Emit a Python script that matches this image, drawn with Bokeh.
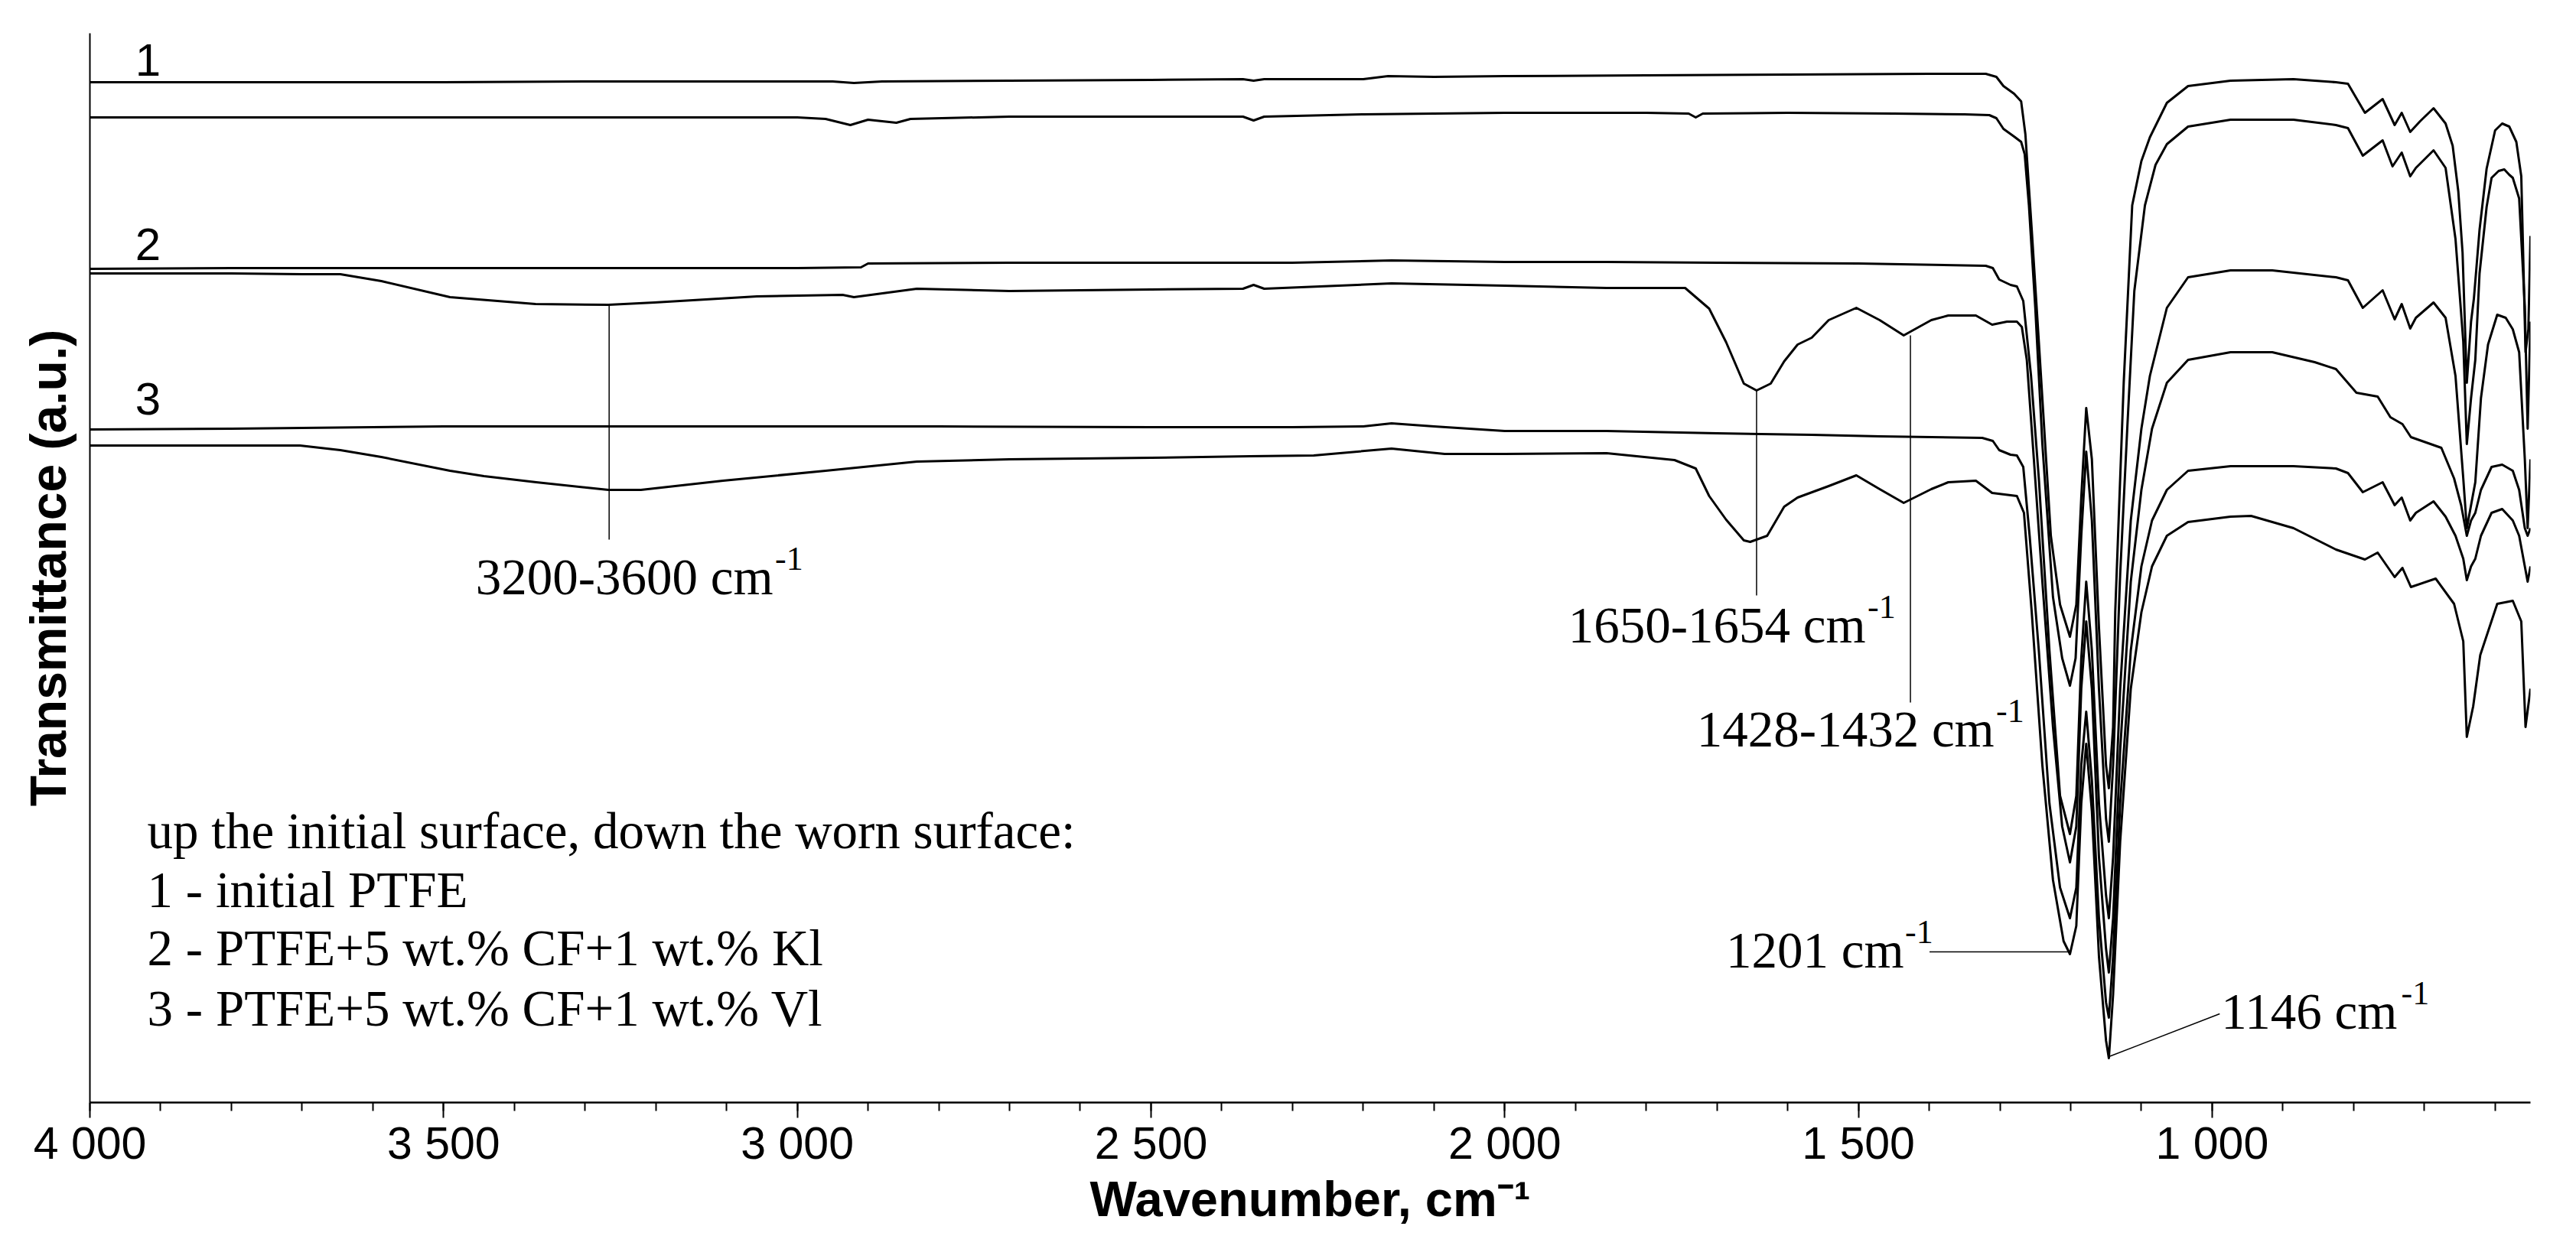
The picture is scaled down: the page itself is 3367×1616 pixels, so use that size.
from bokeh.plotting import figure
from bokeh.models import Range1d, FixedTicker
from bokeh.core.properties import value
from bokeh.embed import file_html
from bokeh.resources import INLINE

# ---------------- axis ticks ----------------
tick_values = [4000, 3500, 3000, 2500, 2000, 1500, 1000]
tick_labels = ["4 000", "3 500", "3 000", "2 500", "2 000", "1 500", "1 000"]
minor_tick_values = list(range(4000, 599, -100))

# ---------------- spectra (wavenumber, transmittance a.u.) ----------------
# 1 - initial PTFE, initial surface
wn_1a = [4000, 3900, 3700, 3500, 3300, 3100, 2950, 2920, 2880, 2700, 2500, 2370, 2355, 2340, 2200, 2165, 2100, 2000,
         1800, 1600, 1400, 1320, 1305, 1295, 1280, 1270, 1264, 1255, 1245, 1228, 1215, 1201, 1192, 1185, 1178, 1170,
         1160, 1150, 1146, 1140, 1137, 1125, 1113, 1100, 1088, 1064, 1034, 974, 885, 825, 808, 784, 759, 742, 732,
         720, 706, 687, 670, 660, 652, 646, 640, 634, 630, 622, 612, 600, 590, 580, 570, 563, 557, 553, 550]
tr_1a = [1334, 1334, 1334, 1334, 1335, 1335, 1335, 1333, 1335, 1336, 1337, 1338, 1336, 1338, 1338, 1342, 1341, 1342,
         1343, 1344, 1345, 1345, 1341, 1329, 1319, 1309, 1266, 1141, 995, 741, 651, 609, 651, 791, 908, 841,
         621, 441, 411, 491, 641, 941, 1173, 1231, 1262, 1307, 1329, 1336, 1338, 1334, 1332, 1294, 1312, 1278, 1294,
         1269, 1283, 1300, 1280, 1251, 1191, 1111, 941, 1021, 1051, 1141, 1221, 1271, 1280, 1276, 1256, 1211, 981, 1011, 1133]

# 1 - initial PTFE, worn surface
wn_1b = [4000, 3800, 3500, 3200, 3000, 2960, 2925, 2900, 2860, 2840, 2700, 2500, 2370, 2355, 2340, 2200, 2000, 1800,
         1740, 1730, 1720, 1600, 1450, 1350, 1315, 1305, 1295, 1280, 1270, 1265, 1259, 1250, 1240, 1225, 1212, 1201,
         1193, 1185, 1178, 1170, 1160, 1150, 1146, 1140, 1130, 1120, 1110, 1095, 1080, 1064, 1034, 974, 885, 825, 808,
         787, 759, 745, 732, 720, 712, 687, 670, 656, 645, 640, 634, 628, 622, 612, 605, 595, 587, 580, 575, 566, 558,
         554, 550]
tr_1b = [1288, 1288, 1288, 1288, 1288, 1286, 1278, 1285, 1281, 1286, 1289, 1289, 1289, 1284, 1289, 1292, 1294, 1294,
         1293, 1288, 1293, 1294, 1293, 1292, 1291, 1287, 1273, 1263, 1256, 1240, 1173, 1039, 861, 661, 581, 545,
         581, 741, 851, 761, 541, 371, 341, 441, 691, 881, 1061, 1173, 1226, 1253, 1276, 1285, 1285, 1278, 1274,
         1238, 1258, 1224, 1242, 1211, 1222, 1245, 1222, 1129, 995, 861, 921, 971, 1084, 1171, 1209, 1218, 1220, 1213, 1209, 1182, 1041,
         881, 1021]

# 2 - PTFE+5 wt.% CF+1 wt.% Kl, initial surface
wn_2a = [4000, 3800, 3500, 3300, 3000, 2910, 2900, 2700, 2500, 2300, 2160, 2000, 1856, 1700, 1500, 1320, 1310, 1301,
         1285, 1276, 1267, 1256, 1245, 1230, 1215, 1201, 1192, 1185, 1178, 1170, 1160, 1150, 1146, 1140, 1130, 1115,
         1100, 1088, 1064, 1034, 974, 915, 825, 808, 787, 759, 742, 732, 720, 712, 687, 670, 656, 645, 640, 634, 628,
         620, 610, 597, 585, 575, 566, 558, 554, 550]
tr_2a = [1090, 1091, 1091, 1091, 1091, 1092, 1097, 1098, 1098, 1098, 1101, 1099, 1099, 1098, 1097, 1094, 1091, 1076,
         1069, 1067, 1048, 950, 816, 591, 401, 351, 401, 581, 681, 591, 391, 271, 241, 321, 541, 761,
         881, 950, 1039, 1079, 1088, 1088, 1079, 1075, 1039, 1062, 1024, 1044, 1012, 1026, 1046, 1026, 950, 816, 751, 781, 811,
         921, 991, 1030, 1026, 1011, 981, 841, 751, 841]

# 2 - PTFE+5 wt.% CF+1 wt.% Kl, worn surface
wn_2b = [4000, 3800, 3700, 3646, 3588, 3491, 3370, 3267, 3202, 3057, 2936, 2920, 2831, 2700, 2500, 2370, 2355, 2340,
         2160, 2000, 1856, 1745, 1711, 1687, 1662, 1644, 1624, 1605, 1586, 1566, 1542, 1503, 1470, 1436, 1397, 1373,
         1334, 1311, 1290, 1276, 1269, 1262, 1252, 1240, 1225, 1212, 1201, 1192, 1185, 1178, 1170, 1160, 1150, 1146,
         1140, 1130, 1115, 1100, 1085, 1064, 1034, 974, 915, 855, 825, 796, 766, 748, 731, 719, 676, 658, 648, 640,
         634, 628, 620, 605, 590, 575, 566, 558, 554, 550]
tr_2b = [1084, 1084, 1083, 1083, 1074, 1053, 1044, 1043, 1046, 1054, 1056, 1053, 1064, 1061, 1063, 1064, 1069, 1064,
         1071, 1068, 1065, 1065, 1038, 994, 940, 931, 940, 969, 991, 1000, 1023, 1039, 1023, 1003, 1023, 1029,
         1029, 1017, 1021, 1021, 1014, 971, 841, 681, 491, 361, 314, 361, 541, 629, 541, 321, 201, 170,
         241, 461, 681, 801, 881, 941, 971, 981, 981, 968, 959, 928, 923, 896, 887, 870, 856, 816, 781, 741,
         761, 771, 801, 831, 834, 826, 801, 751, 741, 751]

# 3 - PTFE+5 wt.% CF+1 wt.% Vl, initial surface
wn_3a = [4000, 3800, 3600, 3500, 3300, 3000, 2800, 2500, 2300, 2200, 2160, 2100, 2000, 1856, 1700, 1566, 1470, 1325,
         1310, 1301, 1285, 1276, 1267, 1258, 1245, 1230, 1215, 1201, 1192, 1185, 1178, 1170, 1160, 1150, 1146, 1140,
         1130, 1115, 1100, 1085, 1064, 1034, 974, 885, 825, 808, 787, 759, 742, 732, 720, 712, 687, 670, 656, 645,
         640, 634, 628, 620, 605, 590, 575, 566, 558, 554, 550]
tr_3a = [880, 881, 883, 884, 884, 884, 884, 883, 883, 884, 888, 884, 878, 878, 875, 873, 871, 869,
         865, 853, 847, 846, 831, 741, 591, 391, 281, 241, 281, 441, 511, 421, 241, 131, 111, 191,
         391, 591, 701, 761, 801, 826, 832, 832, 829, 823, 798, 811, 781, 791, 761, 771, 786, 766, 741, 711,
         683, 701, 711, 741, 771, 776, 761, 741, 701, 681, 701]

# 3 - PTFE+5 wt.% CF+1 wt.% Vl, worn surface
wn_3b = [4000, 3800, 3703, 3646, 3588, 3491, 3443, 3369, 3298, 3267, 3221, 3105, 2960, 2831, 2700, 2500, 2360, 2270,
         2160, 2085, 2000, 1856, 1760, 1730, 1711, 1687, 1662, 1653, 1629, 1605, 1586, 1542, 1503, 1470, 1436, 1397,
         1373, 1334, 1311, 1276, 1266, 1255, 1240, 1225, 1210, 1201, 1192, 1185, 1178, 1170, 1160, 1150, 1146, 1140,
         1130, 1115, 1100, 1085, 1064, 1034, 974, 945, 885, 825, 784, 766, 742, 731, 719, 684, 658, 645, 640, 631,
         621, 597, 575, 563, 557, 550]
tr_3b = [859, 859, 859, 853, 844, 826, 819, 811, 804, 801, 801, 813, 826, 838, 841, 843, 845, 846,
         855, 848, 848, 849, 840, 829, 793, 762, 735, 733, 741, 779, 791, 806, 820, 802, 784, 802,
         811, 813, 797, 793, 771, 641, 441, 291, 211, 194, 231, 391, 469, 381, 191, 81, 58, 141,
         341, 541, 641, 701, 741, 759, 766, 767, 751, 723, 710, 719, 687, 699, 674, 685, 652, 603, 478, 518,
         585, 652, 656, 629, 491, 541]

# ---------------- text ----------------
curve_numbers = ["1", "2", "3"]
legend_lines = ["up the initial surface, down the worn surface:",
                "1 - initial PTFE",
                "2 - PTFE+5 wt.% CF+1 wt.% Kl",
                "3 - PTFE+5 wt.% CF+1 wt.% Vl"]
band_labels = ["3200-3600 cm", "1650-1654 cm", "1428-1432 cm", "1201 cm", "1146 cm"]
band_sup = ["-1", "-1", "-1", "-1", "-1"]

# ---------------- figure ----------------
p = figure(width=3360, height=1610, output_backend="svg", toolbar_location=None,
           x_range=Range1d(4000, 550), y_range=Range1d(0, 1398),
           min_border_left=117, min_border_right=53, min_border_top=43, min_border_bottom=169)
p.outline_line_color = None
p.xgrid.visible = False
p.ygrid.visible = False
p.background_fill_color = "white"
p.border_fill_color = "white"

xa = p.xaxis[0]
xa.ticker = FixedTicker(ticks=tick_values, minor_ticks=minor_tick_values)
xa.major_label_overrides = dict(zip(tick_values, tick_labels))
xa.axis_line_width = 2.5
xa.axis_line_color = "black"
xa.major_tick_line_width = 2
xa.minor_tick_line_width = 2
xa.major_tick_line_color = "black"
xa.minor_tick_line_color = "black"
xa.major_tick_out = 20
xa.major_tick_in = 0
xa.minor_tick_out = 11
xa.minor_tick_in = 0
xa.major_label_standoff = 0
xa.major_label_text_font = "Liberation Sans"
xa.major_label_text_font_size = "59px"
xa.major_label_text_color = "black"
xa.axis_label = "Wavenumber, cm\u207b\u00b9"
xa.axis_label_text_font = "Liberation Sans"
xa.axis_label_text_font_style = "bold"
xa.axis_label_text_font_size = "65px"
xa.axis_label_text_color = "black"
xa.axis_label_standoff = 0

ya = p.yaxis[0]
ya.ticker = FixedTicker(ticks=[])
ya.major_tick_out = 0
ya.major_tick_in = 0
ya.minor_tick_out = 0
ya.minor_tick_in = 0
ya.axis_line_width = 2
ya.axis_line_color = "black"
ya.axis_label = "Transmittance (a.u.)"
ya.axis_label_text_font = "Liberation Sans"
ya.axis_label_text_font_style = "bold"
ya.axis_label_text_font_size = "66px"
ya.axis_label_text_color = "black"
ya.axis_label_standoff = 18

for wn, tr in [(wn_1a, tr_1a), (wn_1b, tr_1b), (wn_2a, tr_2a), (wn_2b, tr_2b), (wn_3a, tr_3a), (wn_3b, tr_3b)]:
    p.line(wn, tr, line_color="black", line_width=3, line_join="round")

# leader lines of band annotations
p.segment(x0=[3266, 1644, 1426.5, 1399.5, 1146], y0=[1044, 931, 1003, 197, 60],
          x1=[3266, 1644, 1426.5, 1201, 989.3], y1=[736, 663, 523, 197, 116],
          line_color="black", line_width=1.5)

# band labels
p.text(x=[3454.6, 1910.3, 1728.5, 1687.3, 987.2], y=[688, 625, 489, 200, 120], text=band_labels,
       text_font=value("Liberation Serif"), text_font_size="67px", text_color="black",
       text_align="left", text_baseline="alphabetic")
p.text(x=[3031.4, 1487.1, 1305.3, 1434.1, 732.8], y=[711, 648, 512, 223, 143], text=band_sup,
       text_font=value("Liberation Serif"), text_font_size="44px", text_color="black",
       text_align="left", text_baseline="alphabetic")

# curve numbers
p.text(x=[3918, 3918, 3918], y=[1363, 1122, 920], text=curve_numbers,
       text_font=value("Liberation Sans"), text_font_size="60px", text_color="black",
       text_align="center", text_baseline="alphabetic")

# legend block
p.text(x=[3918.8] * 4, y=[356, 279, 203, 124], text=legend_lines,
       text_font=value("Liberation Serif"), text_font_size="67px", text_color="black",
       text_align="left", text_baseline="alphabetic")

open("out.html", "w").write(file_html(p, INLINE))
